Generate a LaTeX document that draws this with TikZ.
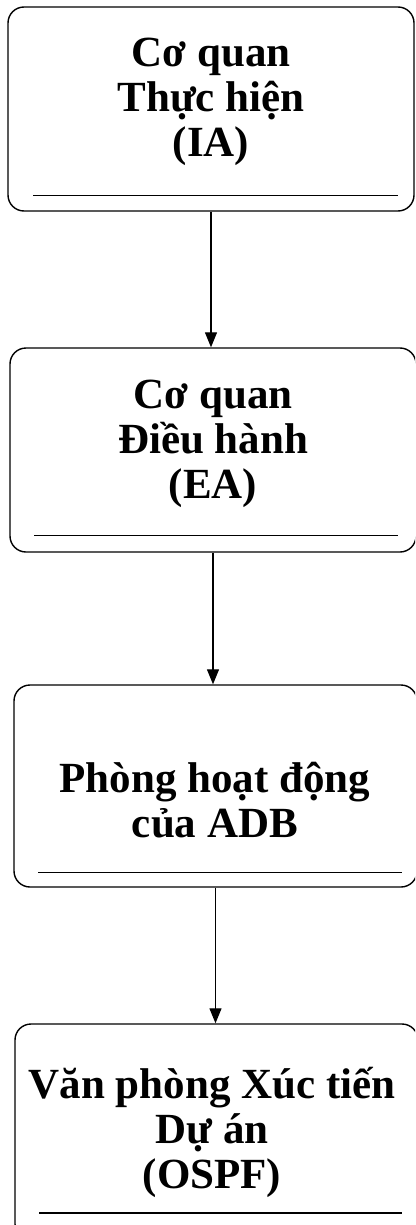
\documentclass[tikz,border=0pt]{standalone}
\usepackage{fontspec}
\setmainfont{Liberation Serif}
\usetikzlibrary{arrows.meta}
\tikzset{
  box/.style={draw, line width=1.4pt, rounded corners=16pt, inner sep=0pt},
  label/.style={font=\fontsize{43}{45}\selectfont\bfseries, align=center, inner sep=0pt},
  rule/.style={line width=1.3pt},
  flow/.style={line width=1.2pt, -{Triangle[length=15pt,width=12pt]}}
}
\begin{document}
\begin{tikzpicture}[x=1pt,y=1pt]
\useasboundingbox (0,0) rectangle (415,-1225);
\clip (0,0) rectangle (415,-1225);
% boxes
\node[box, minimum width=406pt, minimum height=204pt] (b1) at (211,-109) {};
\node[box, minimum width=406pt, minimum height=204pt] (b2) at (213,-450) {};
\node[box, minimum width=403pt, minimum height=202pt] (b3) at (215.5,-786) {};
\node[box, minimum width=403pt, minimum height=216pt] (b4) at (216.5,-1132) {};
% inner rules
\draw[rule] ([xshift=26pt,yshift=16pt]b1.south west) coordinate (r1a) -- (r1a -| 398,0);
\draw[rule] ([xshift=25pt,yshift=17pt]b2.south west) coordinate (r2a) -- (r2a -| 398,0);
\draw[rule] ([xshift=25pt,yshift=15pt]b3.south west) coordinate (r3a) -- (r3a -| 402,0);
\draw[rule] (39,-1213) coordinate (r4a) -- (402,-1213) coordinate (r4b);
% texts
\node[label] (t1) at (211,-102) {Cơ quan\\Thực hiện\\(IA)};
\node[label] (t2) at (213,-444) {Cơ quan\\Điều hành\\(EA)};
\node[label] (t3) at (215,-800) {Phòng hoạt động\\của ADB};
\node[label] (t4) at (212,-1132) {Văn phòng Xúc tiến\\Dự án\\(OSPF)};
% arrows
\draw[flow] (b1.south) -- (b1.south |- b2.north);
\draw[flow] (b2.south) -- (b2.south |- b3.north);
\draw[flow] (b3.south) -- (b3.south |- b4.north);
\end{tikzpicture}
\end{document}
